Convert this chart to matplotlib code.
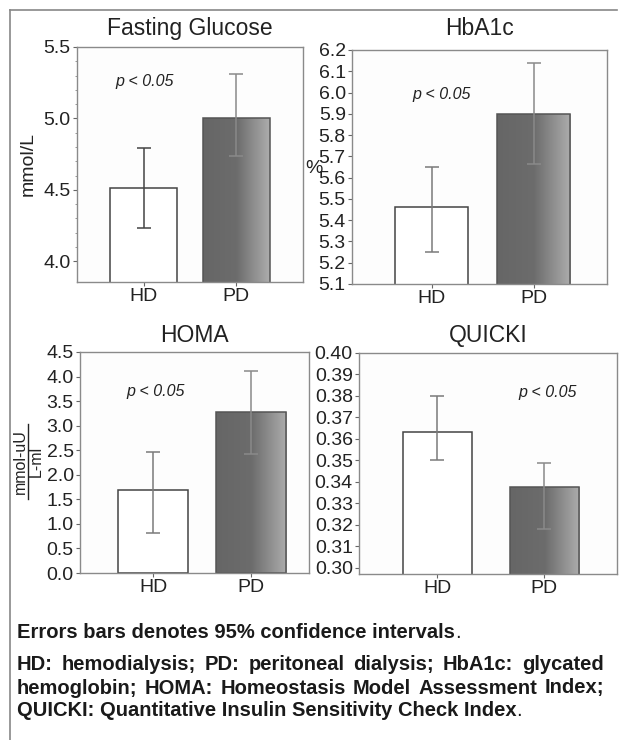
import matplotlib

matplotlib.use("Agg")
import matplotlib.pyplot as plt
import numpy as np
from matplotlib.colors import LinearSegmentedColormap
from matplotlib.lines import Line2D

plt.rcParams["font.family"] = ["Liberation Sans", "DejaVu Sans"]

GROUPS = ["HD", "PD"]

TITLES = ["Fasting Glucose", "HbA1c", "HOMA", "QUICKI"]
MEANS = [[4.51, 5.00], [5.46, 5.90], [1.68, 3.27], [0.3634, 0.3378]]
CI_LOW = [[4.23, 4.74], [5.25, 5.665], [0.81, 2.42], [0.350, 0.318]]
CI_HIGH = [[4.79, 5.31], [5.65, 6.14], [2.47, 4.12], [0.380, 0.3488]]
YTICKS = [
    [4.0, 4.5, 5.0, 5.5],
    [5.1, 5.2, 5.3, 5.4, 5.5, 5.6, 5.7, 5.8, 5.9, 6.0, 6.1, 6.2],
    [0.0, 0.5, 1.0, 1.5, 2.0, 2.5, 3.0, 3.5, 4.0, 4.5],
    [0.30, 0.31, 0.32, 0.33, 0.34, 0.35, 0.36, 0.37, 0.38, 0.39, 0.40],
]
YFMT = ["%.1f", "%.1f", "%.1f", "%.2f"]
P_TEXT = "p < 0.05"

NOTE_1 = "Errors bars denotes 95% confidence intervals"
NOTE_JUSTIFIED = [
    "HD: hemodialysis; PD: peritoneal dialysis; HbA1c: glycated",
    "hemoglobin; HOMA: Homeostasis Model Assessment Index;",
]
NOTE_LAST = "QUICKI: Quantitative Insulin Sensitivity Check Index"

W, H = 619, 740
BOXES = [(77, 47, 303, 282), (352, 50, 607, 284), (80, 352, 309, 573), (359, 353, 617, 574)]
XLIMS = [(-0.72, 1.72), (-0.78, 1.72), (-0.745, 1.59), (-0.73, 1.68)]
YLIMS = [(3.855, 5.5), (5.1, 6.2), (0.0, 4.5), (0.2972, 0.40)]
WIDTHS = [0.72, 0.716, 0.714, 0.645]
P_POS = [(0.30, 0.855), (0.35, 0.81), (0.33, 0.82), (0.73, 0.82)]
TITLE_PAD = [8.5, 10.5, 7, 8]

pd_cmap = LinearSegmentedColormap.from_list(
    "pd", [(0, "#666666"), (0.5, "#6c6c6c"), (1, "#adadad")])

fig = plt.figure(figsize=(W / 100, H / 100), dpi=100)


def fig_rect(x0, y0, x1, y1):
    return [x0 / W, 1 - y1 / H, (x1 - x0) / W, (y1 - y0) / H]


axes = []
for i in range(4):
    ax = fig.add_axes(fig_rect(*BOXES[i]))
    axes.append(ax)
    x = np.arange(len(GROUPS))
    m = np.array(MEANS[i])
    lo = np.array(CI_LOW[i])
    hi = np.array(CI_HIGH[i])
    bars = ax.bar(x, m, WIDTHS[i], bottom=0, color=["white", "none"],
                  edgecolor=["#444444", "#555555"], linewidth=1.1, zorder=2)
    b = bars[1]
    grad = np.linspace(0, 1, 256).reshape(1, -1)
    im = ax.imshow(grad, cmap=pd_cmap, aspect="auto", zorder=1.5,
                   extent=[b.get_x(), b.get_x() + b.get_width(), YLIMS[i][0], m[1]])
    im.set_clip_path(b)
    ecol = ["#444444" if i == 0 else "#7a7a7a", "#8a8a8a"]
    for j in range(len(GROUPS)):
        ax.errorbar(x[j], m[j], yerr=[[m[j] - lo[j]], [hi[j] - m[j]]], fmt="none",
                    ecolor=ecol[j], elinewidth=1.1, capsize=5, capthick=1.1, zorder=3)
    ax.set_xlim(*XLIMS[i])
    ax.set_ylim(*YLIMS[i])
    ax.set_xticks(x)
    ax.set_xticklabels(GROUPS)
    ax.set_yticks(YTICKS[i])
    ax.set_yticklabels([YFMT[i] % v for v in YTICKS[i]])
    ax.tick_params(axis="y", length=3, width=0.8, color="#666666", labelsize=14,
                   pad=1.5, labelcolor="#222222")
    ax.tick_params(axis="x", length=3, width=0.8, color="#666666", labelsize=14,
                   pad=1, labelcolor="#222222")
    for s in ax.spines.values():
        s.set_color("#8a8a8a")
        s.set_linewidth(1.0)
    ax.set_facecolor("#fdfdfd")
    ax.set_title(TITLES[i], fontsize=16.5, color="#222222", pad=TITLE_PAD[i])
    ax.text(*P_POS[i], P_TEXT, transform=ax.transAxes, ha="center", va="center",
            fontsize=11.5, style="italic", color="#222222")

axes[0].set_yticks([4.1, 4.2, 4.3, 4.4, 4.6, 4.7, 4.8, 4.9, 5.1, 5.2, 5.3, 5.4], minor=True)
axes[0].tick_params(axis="y", which="minor", length=1.5, width=0.6, color="#888888")

axes[0].set_ylabel("mmol/L", fontsize=14, color="#222222")
axes[0].yaxis.set_label_coords(-0.177, 0.5)
axes[1].text(-0.15, 0.495, "%", transform=axes[1].transAxes, ha="center", va="center",
             fontsize=14, color="#222222")

# HOMA unit written as a stacked fraction
ax = axes[2]
ax.text(-0.262, 0.505, "mmol-uU", transform=ax.transAxes, rotation=90,
        ha="center", va="center", fontsize=11.5, color="#222222")
ax.text(-0.19, 0.505, "L-ml", transform=ax.transAxes, rotation=90,
        ha="center", va="center", fontsize=11.5, color="#222222")
ax.add_line(Line2D([-0.226, -0.226], [0.335, 0.675], transform=ax.transAxes,
                   color="#222222", lw=1.0, clip_on=False))

# frame around the figure
fig.add_artist(Line2D([10 / W, 10 / W], [0, 1 - 10 / H], color="#888888", lw=1.2))
fig.add_artist(Line2D([10 / W, 617 / W], [1 - 10 / H, 1 - 10 / H], color="#888888", lw=1.2))

note_kw = dict(fontsize=14.5, fontweight="bold", color="#1a1a1a", va="center")
renderer = fig.canvas.get_renderer()
x_left, x_right = 17, 604


def width_of(t):
    return t.get_window_extent(renderer).width


def plain_line(text, ypx):
    t = fig.text(x_left / W, 1 - ypx / H, text, **note_kw)
    end = x_left + width_of(t)
    fig.text(end / W, 1 - ypx / H, ".", fontsize=14.5, color="#1a1a1a", va="center")


def justified_line(text, ypx):
    words = text.split(" ")
    txts = [fig.text(0, 1 - ypx / H, w, **note_kw) for w in words]
    widths = [width_of(t) for t in txts]
    gap = max((x_right - x_left - sum(widths)) / (len(words) - 1), 3)
    xp = x_left
    for t, w in zip(txts, widths):
        t.set_x(xp / W)
        xp += w + gap


plain_line(NOTE_1, 632)
justified_line(NOTE_JUSTIFIED[0], 665)
justified_line(NOTE_JUSTIFIED[1], 688)
plain_line(NOTE_LAST, 711)

fig.savefig("out.png", dpi=100)
